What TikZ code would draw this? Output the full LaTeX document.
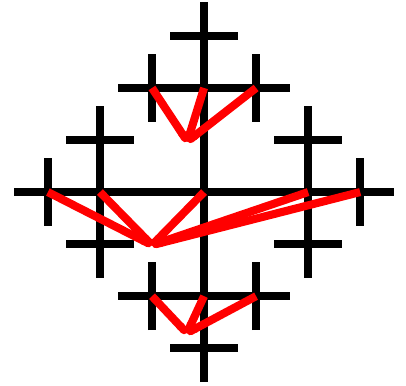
\documentclass[tikz,border=0pt]{standalone}
\usetikzlibrary{arrows.meta}
\begin{document}
\begin{tikzpicture}[x=1cm,y=1cm,
  bar/.style={line width=0.145cm},
  link/.style={red,line width=0.155cm,{Round Cap[]}-}]
  \useasboundingbox (-3.92,-3.71) rectangle (3.88,3.69);
  % long arms
  \draw[bar] (0,-3.65) -- (0,3.65);
  \draw[bar] (-3.65,0) -- (3.65,0);
  \foreach \s in {1,-1} {
     \draw[bar] (-1.65,2*\s) -- (1.65,2*\s);
     \draw[bar] (2*\s,-1.65) -- (2*\s,1.65);
     % short bars
     \draw[bar] (-0.65,3*\s) -- (0.65,3*\s);
     \draw[bar] (3*\s,-0.65) -- (3*\s,0.65);
     \foreach \t in {1,-1} {
        \draw[bar] (\s,2*\t-0.65) -- (\s,2*\t+0.65);
        \draw[bar] (2*\s-0.65,\t) -- (2*\s+0.65,\t);
     }
  }
  % fan points
  \coordinate (tv) at (-0.32,0.97);
  \coordinate (mv) at (-1,-1.02);
  \coordinate (bv) at (-0.33,-2.71);
  \foreach \x/\n in {-1/a,0/b,1/c} {
     \coordinate (t\n) at (\x,2);
     \coordinate (b\n) at (\x,-2);
  }
  \foreach \x/\n in {-3/a,-2/b,0/c,2/d,3/e}
     \coordinate (m\n) at (\x,0);
  % red fans
  \foreach \n in {a,b,c} {
     \draw[link] (tv) -- (t\n);
     \draw[link] (bv) -- (b\n);
  }
  \foreach \n in {a,b,c,d,e}
     \draw[link] (mv) -- (m\n);
\end{tikzpicture}
\end{document}
